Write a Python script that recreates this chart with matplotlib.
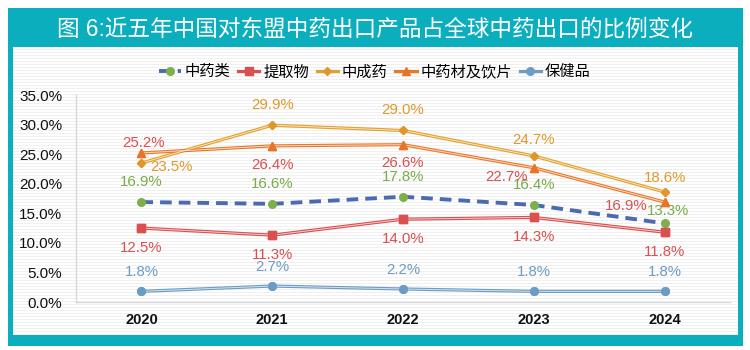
import numpy as np
import matplotlib
matplotlib.use("Agg")
import matplotlib.pyplot as plt
from matplotlib.patches import Rectangle

plt.rcParams['font.family'] = ['Liberation Sans', 'Noto Sans CJK SC', 'DejaVu Sans']

years = ["2020", "2021", "2022", "2023", "2024"]
series_names = ["中药类", "提取物", "中成药", "中药材及饮片", "保健品"]
tcm_all = [16.9, 16.6, 17.8, 16.4, 13.3]
extracts = [12.5, 11.3, 14.0, 14.3, 11.8]
patent_med = [23.5, 29.9, 29.0, 24.7, 18.6]
herbs = [25.2, 26.4, 26.6, 22.7, 16.9]
health = [1.8, 2.7, 2.2, 1.8, 1.8]
yticks = [0, 5, 10, 15, 20, 25, 30, 35]

TEAL = "#0BAEBD"

# style per series: line colour, marker, marker colour, label colour, label offsets (px)
styles = [
    dict(line="#4A6BB0", marker="o", ms=5.5, mc="#7DB04A", lc="#78AC48", dash=True,
         offs=[(0, 20), (0, 20), (0, 20), (0, 20), (3, 12)]),
    dict(line="#D9504F", marker="s", ms=5.2, mc="#D9504F", lc="#D9504F", dash=False,
         offs=[(0, -20), (0, -20), (0, -20), (0, -20), (0, -20)]),
    dict(line="#E3A02C", marker="D", ms=4.2, mc="#E0962A", lc="#E0992A", dash=False,
         offs=[(30, -4), (0, 20), (0, 20), (0, 16), (0, 14)]),
    dict(line="#E8792A", marker="^", ms=5.5, mc="#E8732A", lc="#DA5050", dash=False,
         offs=[(2, 10), (0, -19), (0, -18), (-27, -9), (-38, -4)]),
    dict(line="#6C9CC6", marker="o", ms=5.5, mc="#6C9CC6", lc="#6C9CC6", dash=False,
         offs=[(0, 19), (0, 19), (0, 19), (0, 19), (0, 19)]),
]
data = [tcm_all, extracts, patent_med, herbs, health]

fig = plt.figure(figsize=(7.5, 3.5), dpi=100)
fig.patch.set_facecolor("white")

# teal frame and inner striped panel
frame = fig.add_axes([8 / 750, 4 / 350, 735 / 750, 338 / 350], zorder=-2)
frame.add_patch(Rectangle((0, 0), 1, 1, color=TEAL))
frame.set_axis_off()
bg = fig.add_axes([13 / 750, 15 / 350, 725 / 750, 288 / 350], zorder=-1)
stripes = np.tile(np.array([[1.0], [1.0], [0.94]]), (96, 1))
bg.imshow(stripes, cmap="gray", vmin=0, vmax=1, aspect="auto",
          interpolation="nearest", extent=[0, 1, 0, 1])
bg.set_axis_off()

fig.text(0.5, 1 - 29 / 350, "图 6:近五年中国对东盟中药出口产品占全球中药出口的比例变化",
         color="white", fontsize=16.3, ha="center", va="center")

ax = fig.add_axes([76 / 750, 48 / 350, 654 / 750, 207 / 350], zorder=1)
ax.patch.set_alpha(0)
x = np.arange(len(years)) + 0.5

handles = []
for name, vals, st in zip(series_names, data, styles):
    if st["dash"]:
        h, = ax.plot(x, vals, color=st["line"], lw=2.8, ls=(0, (3, 1.8)),
                     marker=st["marker"], ms=st["ms"], mfc=st["mc"], mec=st["mc"],
                     zorder=3, label=name)
    else:
        h, = ax.plot(x, vals, color=st["line"], lw=2.3, marker=st["marker"],
                     ms=st["ms"], mfc=st["mc"], mec=st["mc"], zorder=3, label=name)
        ax.plot(x, vals, color="white", lw=0.7, alpha=0.7, zorder=3.5)
        ax.plot(x, vals, ls="none", marker=st["marker"], ms=st["ms"],
                mfc=st["mc"], mec=st["mc"], zorder=4)
    handles.append(h)
    for xi, v, (dx, dy) in zip(x, vals, st["offs"]):
        ax.annotate(f"{v:.1f}%", (xi, v), xytext=(dx, dy),
                    textcoords="offset pixels", ha="center", va="center",
                    color=st["lc"], fontsize=10.8, zorder=5)

ax.set_xlim(0, len(years))
ax.set_ylim(0, 35)
ax.set_xticks(x)
ax.set_xticklabels(years, fontsize=10.5, fontweight="bold", color="#111111")
ax.set_yticks(yticks)
ax.set_yticklabels([f"{t:.1f}%" for t in yticks], fontsize=11, color="#111111")
ax.tick_params(length=0, pad=8)
ax.tick_params(axis="y", pad=10)
for side in ["top", "right"]:
    ax.spines[side].set_visible(False)
for side in ["left", "bottom"]:
    ax.spines[side].set_color("#D8D8D8")
    ax.spines[side].set_linewidth(1)

fig.legend(handles=handles, labels=series_names, loc="center",
           bbox_to_anchor=(0.5, 1 - 72 / 350), ncol=5, frameon=False,
           fontsize=11, handlelength=1.4, handletextpad=0.25, columnspacing=0.5)

fig.savefig("out.png", dpi=100)
